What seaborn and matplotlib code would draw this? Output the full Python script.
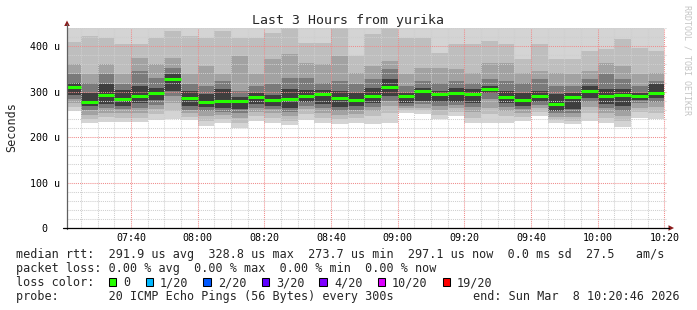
import numpy as np
import pandas as pd
import matplotlib
matplotlib.use("Agg")
import matplotlib.pyplot as plt
import matplotlib.ticker as mticker
from matplotlib.patches import Rectangle, Polygon
from matplotlib.lines import Line2D
from matplotlib.transforms import ScaledTranslation
import seaborn as sns

# ---------------- data ----------------
title = "Last 3 Hours from yurika"
step_start = pd.date_range("2026-03-08 07:20", periods=36, freq="5min")
view_start = pd.Timestamp("2026-03-08 07:20:46")
view_end = pd.Timestamp("2026-03-08 10:20:46")

median_rtt = [310.5, 278, 293, 284, 290, 296.5, 328.8, 285.7, 278, 280,
              280, 288.5, 281, 283.5, 290, 294, 286, 281, 290.5, 311,
              289.5, 301, 294.5, 297.5, 294.5, 306, 288.5, 281, 290.5, 273.7,
              289, 300.5, 290.5, 292.5, 290.5, 297.1]

# smoke band edges (us): upper edges outer->inner, lower edges inner->outer
hi1 = [450, 450, 450, 450, 450, 450, 440, 450, 450, 450, 450, 450, 440, 480, 450, 450, 460, 450,
       450, 470, 450, 450, 450, 450, 450, 450, 450, 450, 450, 450, 450, 450, 450, 450, 450, 450]
hi2 = [410, 423, 419, 404, 404, 419, 434, 423, 419, 434, 419, 419, 430, 460, 406, 408, 440, 379,
       426, 440, 419, 419, 386, 404, 404, 412, 404, 371, 404, 371, 371, 390, 393, 415, 397, 390]
hi3 = [360, 338, 360, 338, 375, 360, 375, 338, 357, 338, 379, 338, 371, 382, 362, 360, 379, 342,
       357, 368, 338, 353, 353, 349, 342, 364, 364, 342, 346, 342, 338, 346, 364, 357, 338, 342]
hi4 = [338, 320, 338, 317, 346, 331, 353, 316, 313, 324, 302, 313, 316, 331, 329, 320, 324, 316,
       327, 349, 313, 324, 320, 324, 320, 327, 324, 320, 327, 313, 313, 327, 338, 327, 313, 324]
hi5 = [320, 298, 317, 303, 313, 309, 338, 302, 294, 305, 289, 298, 293, 305, 303, 303, 302, 298,
       309, 327, 298, 309, 302, 308, 305, 313, 302, 298, 302, 294, 298, 313, 305, 305, 298, 316]
lo5 = [293, 269, 272, 269, 276, 281, 302, 269, 267, 265, 262, 272, 269, 265, 278, 272, 267, 269,
       274, 291, 276, 280, 278, 278, 276, 298, 274, 269, 278, 258, 262, 287, 272, 269, 281, 287]
lo4 = [283, 259, 264, 262, 265, 271, 291, 259, 258, 256, 252, 264, 262, 256, 268, 264, 258, 259,
       267, 280, 269, 272, 269, 271, 267, 283, 267, 262, 271, 252, 254, 278, 264, 258, 274, 278]
lo3 = [274, 249, 254, 252, 254, 262, 276, 252, 247, 249, 243, 256, 252, 247, 261, 254, 249, 251,
       258, 269, 264, 265, 259, 264, 256, 265, 258, 254, 264, 245, 245, 267, 254, 247, 265, 267]
lo2 = [267, 240, 245, 243, 243, 251, 258, 245, 236, 240, 232, 247, 243, 236, 251, 243, 240, 242,
       247, 254, 259, 259, 249, 256, 243, 251, 247, 245, 256, 237, 236, 254, 243, 236, 256, 254]
lo1 = [258, 230, 234, 234, 234, 237, 240, 237, 225, 231, 221, 236, 232, 226, 237, 230, 229, 232,
       229, 230, 254, 250, 240, 247, 231, 232, 232, 236, 247, 230, 229, 236, 232, 223, 242, 240]

smoke_colors = ["#d4d4d4", "#bebebe", "#a2a2a2", "#7a7a7a", "#3e3e3e"]
median_color = "#26ff00"

loss_labels = ["0", "1/20", "2/20", "3/20", "4/20", "10/20", "19/20"]
loss_colors = ["#26ff00", "#00b8ff", "#0059ff", "#5e00ff", "#7e00ff", "#dd00ff", "#ff0000"]

legend_rtt = "median rtt:  291.9 us avg  328.8 us max  273.7 us min  297.1 us now  0.0 ms sd  27.5   am/s"
legend_loss = "packet loss: 0.00 % avg  0.00 % max  0.00 % min  0.00 % now"
legend_color = "loss color:"
legend_probe = "probe:       20 ICMP Echo Pings (56 Bytes) every 300s"
legend_end = "end: Sun Mar  8 10:20:46 2026"
ylabel = "Seconds"
watermark = "RRDTOOL / TOBI OETIKER"

# ---------------- style ----------------
sns.set_style("white")
plt.rcParams["font.family"] = ["DejaVu Sans Mono", "DejaVu Sans"]
MONO = ["DejaVu Sans Mono", "DejaVu Sans"]

W, H = 697, 310
fig = plt.figure(figsize=(W / 100, H / 100), dpi=100)
fig.patch.set_facecolor("white")

def fx(px):
    return px / W

def fy(py):
    return 1 - py / H

AX_L, AX_R, AX_T, AX_B = 67, 667, 28, 228
ax = fig.add_axes([fx(AX_L), fy(AX_B), (AX_R - AX_L) / W, (AX_B - AX_T) / H])
ax.set_facecolor("white")

t0 = pd.Timestamp("2026-03-08 07:00")
minutes = ((step_start - t0).total_seconds() / 60).to_numpy()
centers = minutes + 2.5

def draw_bars(values, color):
    df = pd.DataFrame({"t": centers, "v": values})
    sns.barplot(data=df, x="t", y="v", native_scale=True, width=1.0, orient="x",
                color=color, saturation=1, errorbar=None, linewidth=0,
                antialiased=False, ax=ax)

highs = [hi1, hi2, hi3, hi4, hi5]
lows = [lo1, lo2, lo3, lo4, lo5]
for k in range(5):
    draw_bars(highs[k], smoke_colors[k])
for k in range(4, -1, -1):
    draw_bars(lows[k], smoke_colors[k - 1] if k > 0 else "white")

ax.hlines(median_rtt, minutes, minutes + 5, colors=median_color, lw=2.2, zorder=3)

xmin = (view_start - t0).total_seconds() / 60
xmax = (view_end - t0).total_seconds() / 60
ax.set_xlim(xmin, xmax)
ax.set_ylim(0, 440)
ax.set_xlabel("")
ax.set_ylabel("")

ax.xaxis.set_major_locator(mticker.MultipleLocator(20))
ax.xaxis.set_minor_locator(mticker.MultipleLocator(5))
ax.xaxis.set_major_formatter(mticker.FuncFormatter(
    lambda v, p: f"{7 + int(round(v)) // 60:02d}:{int(round(v)) % 60:02d}"))
yt = [0, 100, 200, 300, 400]
ax.set_yticks(yt, ["0" if v == 0 else f"{v} u" for v in yt])
ax.yaxis.set_minor_locator(mticker.MultipleLocator(20))

for s in ax.spines.values():
    s.set_visible(False)

ax.set_axisbelow(False)
ax.grid(which="major", color="#f08c8c", linestyle=(0, (1, 1)), lw=0.75)
ax.grid(which="minor", color="#cfcfcf", linestyle=(0, (1, 1)), lw=0.75)

ax.tick_params(axis="x", which="major", length=2.2, width=0.75, color="#444444",
               pad=1.7, labelsize=7.2, labelcolor="black")
ax.tick_params(axis="x", which="minor", length=1.4, width=0.75, color="#888888")
ax.tick_params(axis="y", which="major", length=2.2, width=0.75, color="#444444",
               pad=3.2, labelsize=7.2, labelcolor="black")
ax.tick_params(axis="y", which="minor", length=1.4, width=0.75, color="#888888")
for lab in ax.get_xticklabels() + ax.get_yticklabels():
    lab.set_family(MONO)

zero_lab = ax.get_yticklabels()[0]
zero_lab.set_transform(zero_lab.get_transform() + ScaledTranslation(-12 / 100, 0, fig.dpi_scale_trans))

# axes lines and arrows
fig.add_artist(Line2D([fx(67), fx(67)], [fy(228.5), fy(24)], color="#606060", lw=0.9))
fig.add_artist(Line2D([fx(63), fx(669)], [fy(228), fy(228)], color="black", lw=0.9))
fig.add_artist(Polygon([[fx(67), fy(20.5)], [fx(64.2), fy(26)], [fx(69.8), fy(26)]],
                       closed=True, color="#8b1a1a", lw=0))
fig.add_artist(Polygon([[fx(674), fy(228)], [fx(668.5), fy(225.2)], [fx(668.5), fy(230.8)]],
                       closed=True, color="#8b1a1a", lw=0))

# texts
fig.text(fx(347.5), fy(24), title, ha="center", va="baseline", size=9.5, family=MONO)
fig.text(fx(12.2), fy(127.5), ylabel, rotation=90, ha="center", va="center", size=8.5, family=MONO)
fig.text(fx(686.5), fy(60), watermark, rotation=270, ha="center", va="center", size=6,
         color="#c4c4c4", family=MONO)

LX = 16
fig.text(fx(LX), fy(258.3), legend_rtt, ha="left", va="baseline", size=8.5, family=MONO)
fig.text(fx(LX), fy(272.3), legend_loss, ha="left", va="baseline", size=8.5, family=MONO)
fig.text(fx(LX), fy(286.3), legend_color, ha="left", va="baseline", size=8.5, family=MONO)
fig.text(fx(LX), fy(300.3), legend_probe, ha="left", va="baseline", size=8.5, family=MONO)
fig.text(fx(680), fy(300.3), legend_end, ha="right", va="baseline", size=8.5, family=MONO)

sq_x = [108.7, 145.7, 203.3, 261.7, 319.3, 377.7, 442.7]
lab_x = [123, 160, 218, 276, 334, 391.7, 456.7]
for sx, lx, lab, col in zip(sq_x, lab_x, loss_labels, loss_colors):
    fig.add_artist(Rectangle((fx(sx), fy(286)), 7.2 / W, 8 / H, facecolor=col,
                             edgecolor="black", lw=0.75))
    fig.text(fx(lx), fy(286.3), lab, ha="left", va="baseline", size=8.5, family=MONO)

fig.savefig("out.png", dpi=100, facecolor="white")
